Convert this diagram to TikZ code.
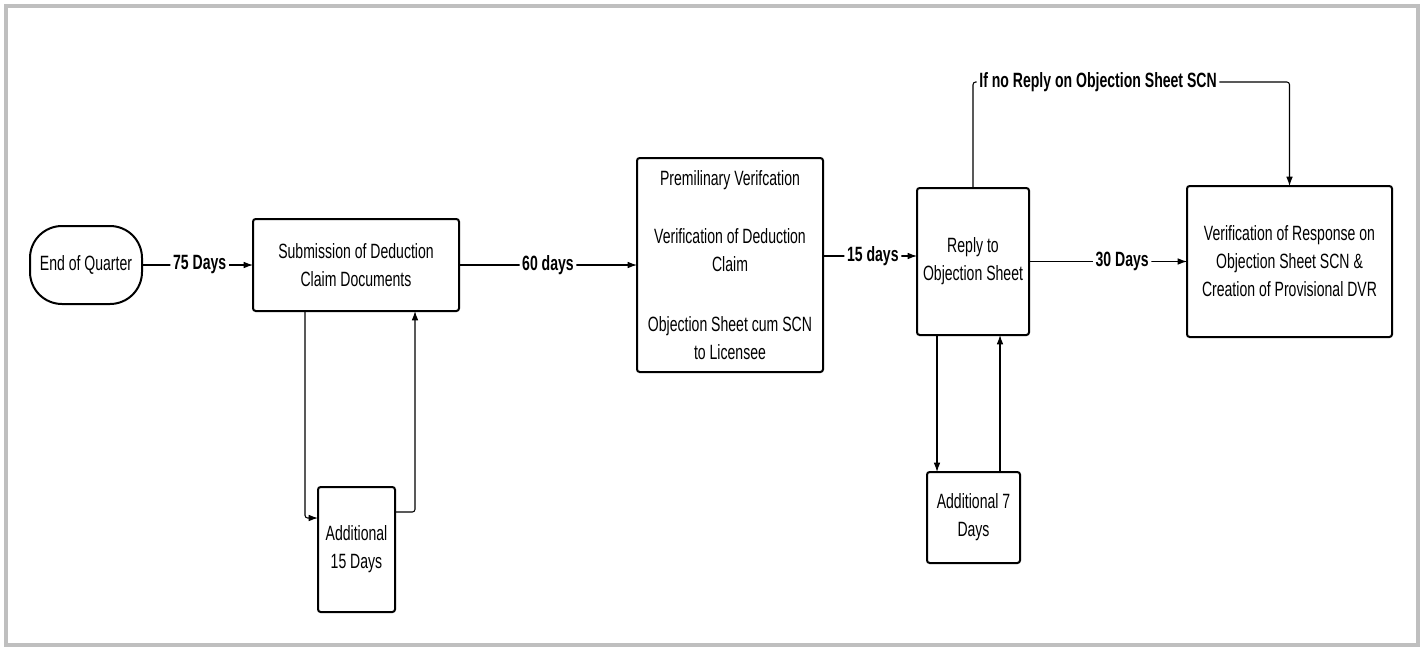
\documentclass[tikz,border=0pt]{standalone}
\usepackage{fontspec}
\setmainfont{Liberation Sans}[FakeStretch=0.68]
\usetikzlibrary{arrows.meta}

\tikzset{
  stepbox/.style={draw, line width=1.5pt, rounded corners=2pt, inner sep=0pt, outer sep=0pt, align=center, font=\fontsize{15.5}{21}\selectfont},
  pill/.style={stepbox, rounded corners=24pt},
  conn/.style={line width=0.8pt, rounded corners=2pt, -{Latex[length=7pt,width=5pt]}},
  lbl/.style={fill=white, inner sep=2pt, font=\fontsize{15.5}{21}\selectfont\bfseries},
}

\begin{document}
\begin{tikzpicture}
[x=0.75pt,y=0.75pt,yscale=-1,xscale=1]
\useasboundingbox (0,0) rectangle (1424,650);
\draw [black!25, line width=3pt] (6,6) rectangle (1418,645);

\draw (86,265) node (eoq) [pill, minimum width=84pt, minimum height=58.5pt] {End of Quarter};
\draw (356,265) node (sub) [stepbox, minimum width=154.5pt, minimum height=69pt] {Submission of Deduction\\Claim Documents};
\draw (356.5,549.5) node (add15) [stepbox, minimum width=57.75pt, minimum height=93.75pt] {Additional\\15 Days};
\draw (730,265) node (prelim) [stepbox, minimum width=139.5pt, minimum height=160.5pt] {Premilinary Verifcation\\[22.5pt]Verification of Deduction\\Claim\\[24pt]Objection Sheet cum SCN\\to Licensee};
\draw (973,261.5) node (reply) [stepbox, minimum width=84pt, minimum height=110.25pt] {Reply to\\Objection Sheet};
\draw (973.5,517.5) node (add7) [stepbox, minimum width=69.75pt, minimum height=68.25pt] {Additional 7\\Days};
\draw (1289.5,261.5) node (verif) [stepbox, minimum width=153.75pt, minimum height=113.25pt] {Verification of Response on\\Objection Sheet SCN \&\\Creation of Provisional DVR};

% turning points of the side loops
\coordinate (loopy) at (0,82);
\coordinate (arr15) at (0,256);
\coordinate (s15) at (305,518);
\coordinate (r15) at (415,512);
\coordinate (d7) at (937,0);
\coordinate (u7) at (1000,0);

\draw [conn] (eoq) -- node [lbl, pos=0.52] {75 Days} (sub);
\draw [conn] (sub) -- node [lbl, pos=0.5] {60 days} (prelim);
\draw [conn] (prelim.east |- arr15) -- node [lbl, pos=0.53] {15 days} (reply.west |- arr15);
\draw [conn] (reply) -- node [lbl, pos=0.59] {30 Days} (verif);
\draw [conn] (reply.north) -- (reply.north |- loopy) -- node [lbl, pos=0.395] {If no Reply on Objection Sheet SCN} (verif.north |- loopy) -- (verif.north);

\draw [conn] (sub.south -| s15) |- (add15.west |- s15);
\draw [conn] (add15.east |- r15) -| (sub.south -| r15);
\draw [conn] (reply.south -| d7) -- (add7.north -| d7);
\draw [conn] (add7.north -| u7) -- (reply.south -| u7);

\end{tikzpicture}
\end{document}
